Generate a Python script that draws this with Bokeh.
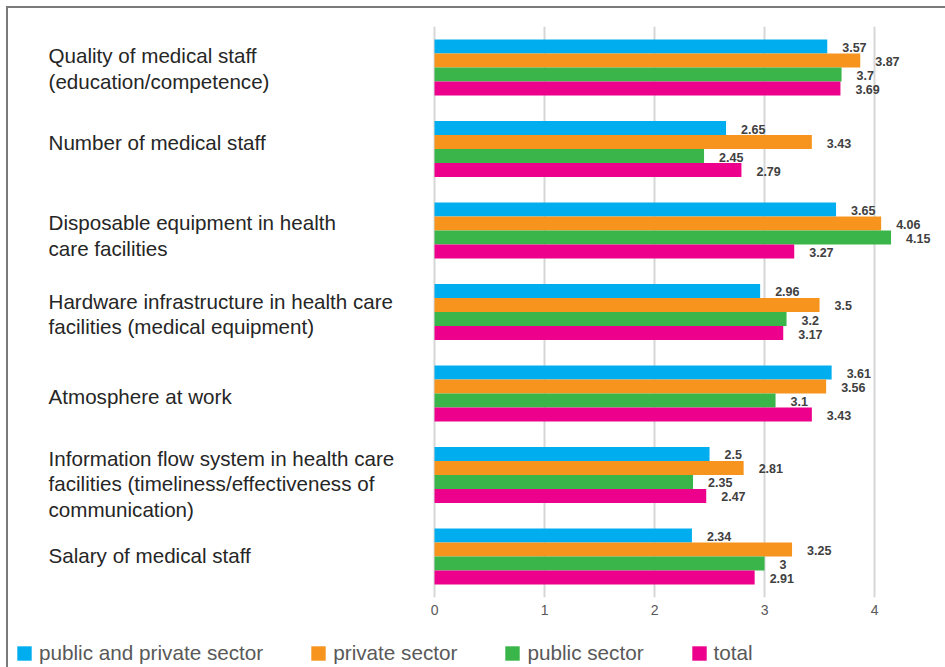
from bokeh.plotting import figure
from bokeh.layouts import column
from bokeh.models import FactorRange, Range1d, FixedTicker, Legend, LegendItem, ColumnDataSource
from bokeh.core.properties import value
from bokeh.embed import file_html
from bokeh.resources import INLINE

categories = [
    "Quality of medical staff\n(education/competence)",
    "Number of medical staff",
    "Disposable equipment in health\ncare facilities",
    "Hardware infrastructure in health care\nfacilities (medical equipment)",
    "Atmosphere at work",
    "Information flow system in health care\nfacilities (timeliness/effectiveness of\ncommunication)",
    "Salary of medical staff",
]
series = ["public and private sector", "private sector", "public sector", "total"]
public_and_private = [3.57, 2.65, 3.65, 2.96, 3.61, 2.5, 2.34]
private_sector = [3.87, 3.43, 4.06, 3.5, 3.56, 2.81, 3.25]
public_sector = [3.7, 2.45, 4.15, 3.2, 3.1, 2.35, 3.0]
total = [3.69, 2.79, 3.27, 3.17, 3.43, 2.47, 2.91]
x_ticks = [0, 1, 2, 3, 4]
colors = ["#00AEEF", "#F7941D", "#39B54A", "#EC008C"]

values_by_series = [public_and_private, private_sector, public_sector, total]

# small vertical nudges (px) of the category captions, as in the original layout
caption_nudge = [1, -7, 5, 2, 3, 9, -1]

factors = [(c, s) for c in reversed(categories) for s in reversed(series)]
y_range = FactorRange(*factors, group_padding=1.82, range_padding=0.93,
                      range_padding_units="absolute")

FONT = "Liberation Sans"
W = 937

p = figure(width=W, height=614, x_range=Range1d(-3.873, 4.645), y_range=y_range,
           output_backend="svg", toolbar_location=None,
           min_border_left=0, min_border_right=0, min_border_top=18, min_border_bottom=25)
p.outline_line_color = None
p.background_fill_color = "white"
p.border_fill_color = "white"

p.yaxis.visible = False
p.ygrid.visible = False
p.xgrid.ticker = FixedTicker(ticks=x_ticks)
p.xgrid.grid_line_color = "#d6d6d6"
p.xgrid.grid_line_width = 2

p.xaxis.ticker = FixedTicker(ticks=x_ticks)
p.xaxis.axis_line_color = None
p.xaxis.major_tick_line_color = None
p.xaxis.minor_tick_line_color = None
p.xaxis.major_label_text_font = FONT
p.xaxis.major_label_text_font_size = "14px"
p.xaxis.major_label_text_color = "#595959"
p.xaxis.major_label_standoff = 1

for name, vals, col in zip(series, values_by_series, colors):
    src = ColumnDataSource(dict(
        y=[(c, name) for c in categories],
        v=vals,
        lbl=[f"{v:g}" for v in vals],
    ))
    p.hbar(y="y", left=0, right="v", height=1.0, source=src,
           fill_color=col, line_color=None)
    p.text(x="v", y="y", text="lbl", source=src, x_offset=15, y_offset=1,
           text_font=value(FONT), text_font_size="12.5px", text_font_style="bold",
           text_color="#404040", text_align="left", text_baseline="middle")

cat_src = ColumnDataSource(dict(y=categories, x=[-3.509] * len(categories), t=categories,
                                dy=caption_nudge))
p.text(x="x", y="y", text="t", source=cat_src, y_offset="dy",
       text_font=value(FONT), text_font_size="20.6px", text_color="#262626",
       text_align="left", text_baseline="middle", text_line_height=1.1)

# legend strip
pl = figure(width=W, height=45, x_range=Range1d(0, 1), y_range=Range1d(0, 1),
            output_backend="svg", toolbar_location=None,
            min_border_left=0, min_border_right=0, min_border_top=0, min_border_bottom=0)
pl.axis.visible = False
pl.grid.visible = False
pl.outline_line_color = None
items = []
for name, col in zip(series, colors):
    r = pl.hbar(y=[0.5], left=[0], right=[0], height=0.1, fill_color=col, line_color=None)
    items.append(LegendItem(label=name, renderers=[r]))
legend = Legend(items=items, orientation="horizontal", location=(7, 2),
                border_line_color=None, background_fill_alpha=0,
                label_text_font=FONT, label_text_font_size="20.7px",
                label_text_color="#595959", glyph_width=18, glyph_height=18,
                label_standoff=6, spacing=46, padding=4, margin=0)
pl.add_layout(legend, "center")

layout = column(p, pl, spacing=0,
                styles={"margin-left": "6px", "margin-top": "6px",
                        "border-left": "2px solid #7a7a7a",
                        "border-top": "2px solid #7a7a7a"})

open("out.html", "w").write(file_html(layout, INLINE))
